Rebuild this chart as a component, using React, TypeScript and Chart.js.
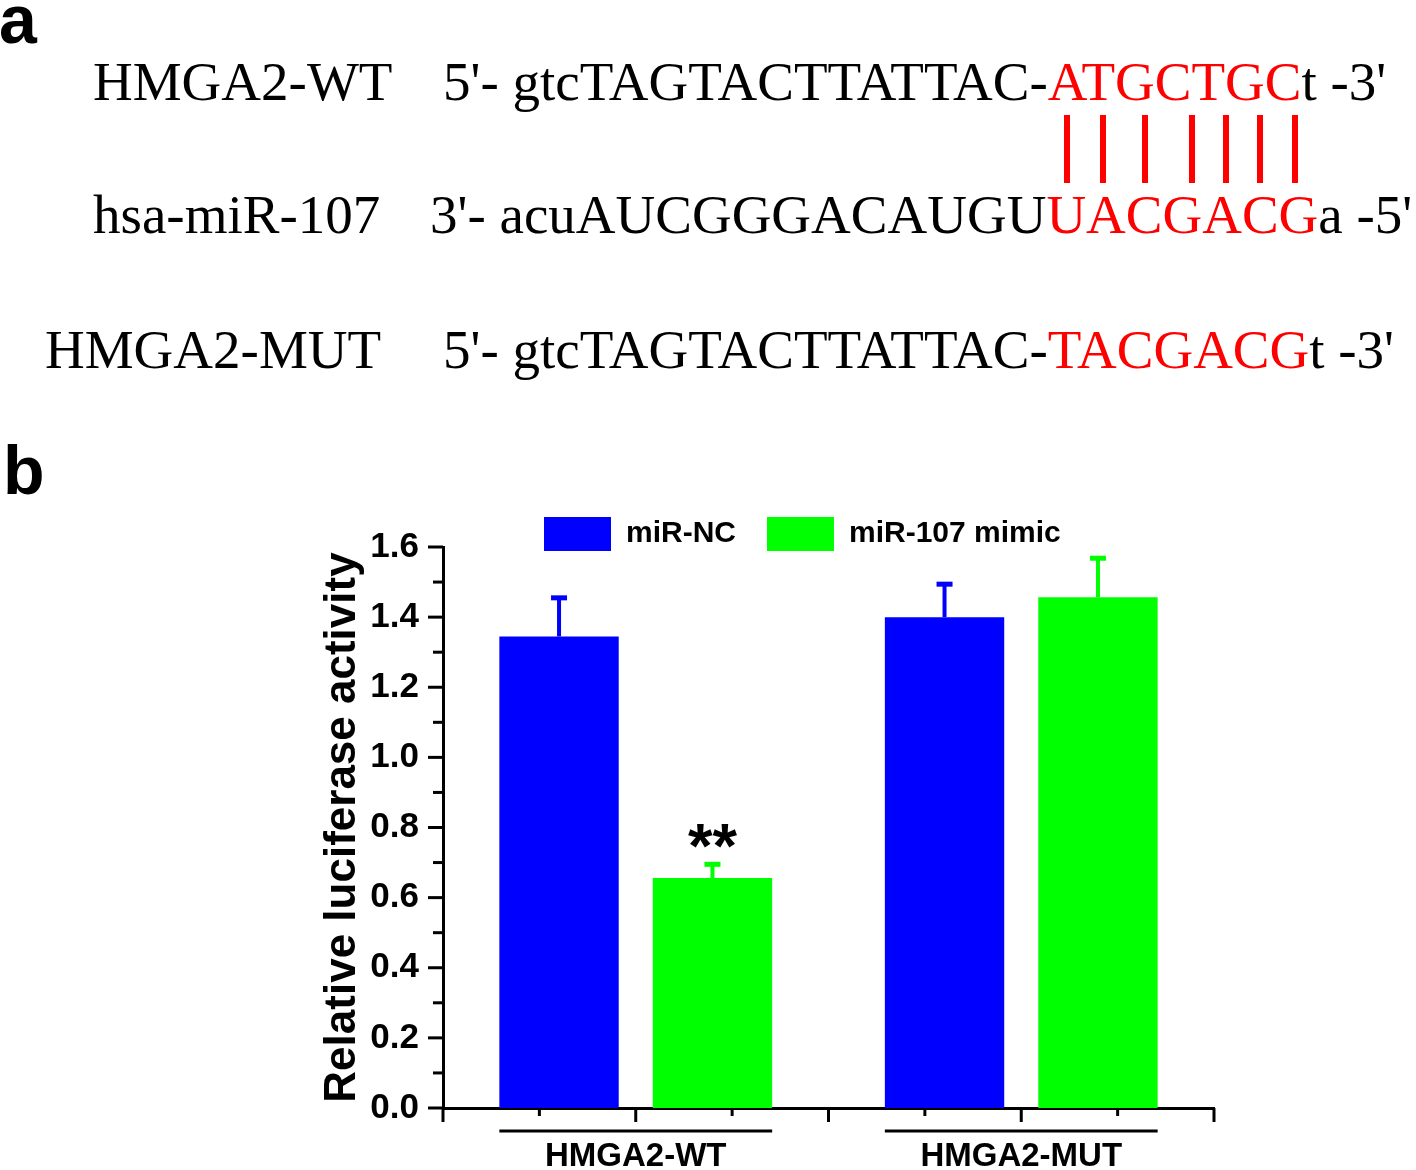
import React, { useEffect, useRef } from 'react';
import { Chart, registerables } from 'chart.js';

Chart.register(...registerables);

// ---------- data ----------
const GROUPS = ['HMGA2-WT', 'HMGA2-MUT'];
const SERIES = ['miR-NC', 'miR-107 mimic'];
const SERIES_COLORS = ['#0000FF', '#00FF00'];
const NC_VALUES = [1.345, 1.4];
const NC_ERRORS = [0.11, 0.094];
const MIMIC_VALUES = [0.656, 1.457];
const MIMIC_ERRORS = [0.039, 0.111];
const MIMIC_MARKS = ['**', ''];
const Y_MIN = 0;
const Y_MAX = 1.6;
const Y_STEP = 0.2;
const Y_MINOR = 0.1;
const Y_TITLE = 'Relative luciferase activity';

const SANS = "'Liberation Sans', Arial, Helvetica, sans-serif";
const SERIF = "'Liberation Serif', 'Times New Roman', Times, serif";

const errorBarsPlugin = {
  id: 'errorBars',
  afterDatasetsDraw(chart: any) {
    const ctx = chart.ctx;
    const y = chart.scales.y;
    chart.data.datasets.forEach((ds: any, di: number) => {
      const meta = chart.getDatasetMeta(di);
      meta.data.forEach((bar: any, i: number) => {
        const v = ds.data[i];
        const e = ds.errors[i];
        const yTop = y.getPixelForValue(v + e);
        const yBase = y.getPixelForValue(v);
        ctx.save();
        ctx.fillStyle = ds.backgroundColor;
        ctx.fillRect(bar.x - 2, yTop, 4, yBase - yTop);
        ctx.fillRect(bar.x - 8, yTop - 2.5, 16, 5);
        const mark = ds.marks ? ds.marks[i] : '';
        if (mark) {
          ctx.fillStyle = '#000';
          ctx.font = `bold 63px ${SANS}`;
          ctx.textAlign = 'center';
          ctx.textBaseline = 'alphabetic';
          ctx.fillText(mark, bar.x, yBase - 11);
        }
        ctx.restore();
      });
    });
  },
};

const axisTicksPlugin = {
  id: 'axisTicks',
  afterDraw(chart: any) {
    const { ctx, chartArea } = chart;
    const x = chart.scales.x;
    const y = chart.scales.y;
    ctx.save();
    ctx.strokeStyle = '#000';
    ctx.lineWidth = 3;
    ctx.lineCap = 'butt';
    const n = Math.round((Y_MAX - Y_MIN) / Y_MINOR);
    for (let k = 0; k <= n; k++) {
      const py = y.getPixelForValue(Y_MIN + k * Y_MINOR);
      const len = k % 2 === 0 ? 15 : 10;
      ctx.beginPath();
      ctx.moveTo(chartArea.left, py);
      ctx.lineTo(chartArea.left - len, py);
      ctx.stroke();
    }
    const cw = x.getPixelForValue(1) - x.getPixelForValue(0);
    const start = x.getPixelForValue(0) - cw / 2;
    for (let k = 0; k <= GROUPS.length * 4; k++) {
      const px = start + (k * cw) / 4;
      const len = k % 2 === 0 ? 14 : 8;
      ctx.beginPath();
      ctx.moveTo(px, chartArea.bottom);
      ctx.lineTo(px, chartArea.bottom + len);
      ctx.stroke();
    }
    const m0 = chart.getDatasetMeta(0);
    const m1 = chart.getDatasetMeta(chart.data.datasets.length - 1);
    GROUPS.forEach((_g, i) => {
      const b0 = m0.data[i];
      const b1 = m1.data[i];
      const l = b0.x - b0.width / 2;
      const r = b1.x + b1.width / 2;
      const yy = chartArea.bottom + 23;
      ctx.beginPath();
      ctx.moveTo(l, yy);
      ctx.lineTo(r, yy);
      ctx.stroke();
    });
    ctx.restore();
  },
};

const legendPlacePlugin = {
  id: 'legendPlace',
  afterLayout(chart: any, _args: any, opts: any) {
    const lg = chart.legend;
    if (!lg) return;
    const pad = lg.options.labels.padding;
    const w = lg.width;
    const h = lg.height;
    lg.left = opts.left - pad;
    lg.right = lg.left + w;
    lg.top = opts.top - pad;
    lg.bottom = lg.top + h;
  },
};

function BarChart() {
  const ref = useRef<HTMLCanvasElement | null>(null);
  useEffect(() => {
    if (!ref.current) return;
    const chart = new Chart(ref.current, {
      type: 'bar',
      data: {
        labels: GROUPS,
        datasets: [
          {
            label: SERIES[0],
            data: NC_VALUES,
            errors: NC_ERRORS,
            backgroundColor: SERIES_COLORS[0],
            borderWidth: 0,
            categoryPercentage: 0.796,
            barPercentage: 0.778,
          } as any,
          {
            label: SERIES[1],
            data: MIMIC_VALUES,
            errors: MIMIC_ERRORS,
            marks: MIMIC_MARKS,
            backgroundColor: SERIES_COLORS[1],
            borderWidth: 0,
            categoryPercentage: 0.796,
            barPercentage: 0.778,
          } as any,
        ],
      },
      options: {
        animation: false,
        responsive: true,
        maintainAspectRatio: false,
        layout: { padding: { top: 72, left: 0, right: 202, bottom: 0 } },
        plugins: {
          tooltip: { enabled: false },
          legend: {
            position: 'top',
            align: 'start',
            labels: {
              boxWidth: 67,
              boxHeight: 34,
              padding: 31,
              color: '#000',
              font: { family: SANS, size: 30, weight: 'bold' },
            },
          },
          legendPlace: { left: 544, top: 117 },
        } as any,
        scales: {
          x: {
            type: 'category',
            offset: true,
            grid: { display: false },
            border: { display: true, color: '#000', width: 3 },
            ticks: {
              color: '#000',
              padding: 21,
              maxRotation: 0,
              autoSkip: false,
              font: { family: SANS, size: 33, weight: 'bold' },
            },
            afterFit: (s: any) => {
              s.height = 62;
            },
          },
          y: {
            min: Y_MIN,
            max: Y_MAX,
            grid: { display: false },
            border: { display: true, color: '#000', width: 3 },
            ticks: {
              stepSize: Y_STEP,
              color: '#000',
              padding: 16,
              font: { family: SANS, size: 35, weight: 'bold' },
              callback: (v: any) => Number(v).toFixed(1),
            },
            title: {
              display: true,
              text: Y_TITLE,
              color: '#000',
              font: { family: SANS, size: 44, weight: 'bold' },
              padding: { top: 316, bottom: 0 },
            },
            afterFit: (s: any) => {
              s.width = 443;
            },
          },
        } as any,
      },
      plugins: [errorBarsPlugin, axisTicksPlugin, legendPlacePlugin],
    } as any);
    return () => chart.destroy();
  }, []);
  return <canvas ref={ref} />;
}

const RED = '#FF0000';
const PAIR_LINES_X = [1067, 1103, 1145, 1192, 1226, 1260, 1295];

export default function App() {
  return (
    <div style={{ position: 'absolute', left: 0, top: 0, width: 1416, height: 1170, background: '#fff', overflow: 'hidden' }}>
      <div style={{ position: 'absolute', left: 0, top: 400, width: 1416, height: 770 }}>
        <BarChart />
      </div>
      <svg
        width={1416}
        height={1170}
        style={{ position: 'absolute', left: 0, top: 0, pointerEvents: 'none' }}
      >
        <text x={-1} y={43} fontFamily={SANS} fontWeight="bold" fontSize={68} fill="#000">a</text>
        <text x={3} y={494} fontFamily={SANS} fontWeight="bold" fontSize={68} fill="#000">b</text>

        <text x={93} y={100} fontFamily={SERIF} fontSize={55} fill="#000">HMGA2-WT</text>
        <text x={443} y={100} fontFamily={SERIF} fontSize={55} fill="#000">
          <tspan>5'- gtcTAGTACTTATTAC-</tspan>
          <tspan fill={RED}>ATGCTGC</tspan>
          <tspan>t -3'</tspan>
        </text>

        {PAIR_LINES_X.map((lx) => (
          <line key={lx} x1={lx} x2={lx} y1={115} y2={183} stroke={RED} strokeWidth={6} />
        ))}

        <text x={93} y={233} fontFamily={SERIF} fontSize={55} fill="#000">hsa-miR-107</text>
        <text x={430} y={233} fontFamily={SERIF} fontSize={55} fill="#000">
          <tspan>3'- acuAUCGGGACAUGU</tspan>
          <tspan fill={RED}>UACGACG</tspan>
          <tspan>a -5'</tspan>
        </text>

        <text x={45} y={368} fontFamily={SERIF} fontSize={55} fill="#000">HMGA2-MUT</text>
        <text x={443} y={368} fontFamily={SERIF} fontSize={55} fill="#000">
          <tspan>5'- gtcTAGTACTTATTAC-</tspan>
          <tspan fill={RED}>TACGACG</tspan>
          <tspan>t -3'</tspan>
        </text>
      </svg>
    </div>
  );
}
